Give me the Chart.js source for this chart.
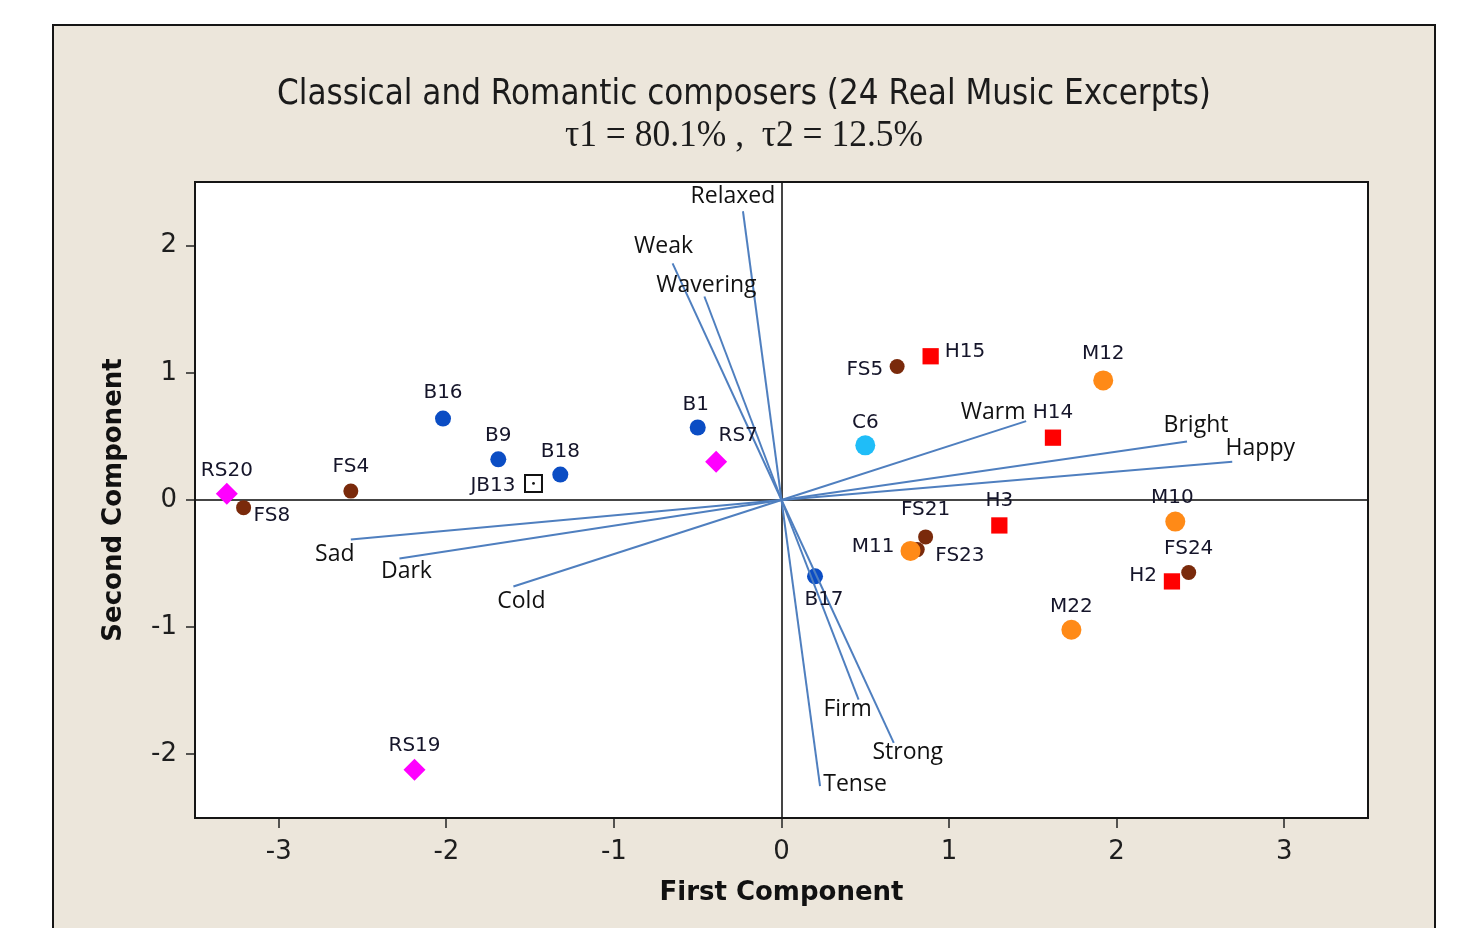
<!DOCTYPE html>
<html>
<head>
<meta charset="utf-8">
<title>Classical and Romantic composers</title>
<script src="https://cdn.jsdelivr.net/npm/chart.js@4.4.1/dist/chart.umd.min.js"></script>
<style>
  html, body { margin: 0; padding: 0; background: #ffffff; }
  #wrap { width: 1457px; height: 928px; position: relative; }
</style>
</head>
<body>
<div id="wrap"><canvas id="biplot"></canvas></div>
<script>
// ---- Excerpt scores on the first two principal components, by composer ----
const beethovenNames = ['B1', 'B9', 'B16', 'B17', 'B18'];
const beethovenX = [-0.50, -1.69, -2.02, 0.20, -1.32];
const beethovenY = [0.57, 0.32, 0.64, -0.60, 0.20];

const schubertNames = ['FS4', 'FS5', 'FS8', 'FS21', 'FS23', 'FS24'];
const schubertX = [-2.57, 0.69, -3.21, 0.86, 0.81, 2.43];
const schubertY = [0.07, 1.05, -0.06, -0.29, -0.39, -0.57];

const haydnNames = ['H2', 'H3', 'H14', 'H15'];
const haydnX = [2.33, 1.30, 1.62, 0.89];
const haydnY = [-0.64, -0.20, 0.49, 1.13];

const mozartNames = ['M10', 'M11', 'M12', 'M22'];
const mozartX = [2.35, 0.77, 1.92, 1.73];
const mozartY = [-0.17, -0.40, 0.94, -1.02];

const schumannNames = ['RS7', 'RS19', 'RS20'];
const schumannX = [-0.39, -2.19, -3.31];
const schumannY = [0.30, -2.12, 0.05];

const chopinNames = ['C6'];
const chopinX = [0.50];
const chopinY = [0.43];

const brahmsNames = ['JB13'];
const brahmsX = [-1.48];
const brahmsY = [0.13];

// ---- Emotion descriptor loadings (vectors drawn from the origin) ----
const descriptorNames = ['Relaxed', 'Weak', 'Wavering', 'Warm', 'Bright', 'Happy',
                         'Sad', 'Dark', 'Cold', 'Firm', 'Strong', 'Tense'];
const descriptorX = [-0.23, -0.65, -0.46, 1.46, 2.42, 2.69, -2.57, -2.28, -1.60, 0.46, 0.67, 0.23];
const descriptorY = [2.27, 1.86, 1.60, 0.62, 0.46, 0.30, -0.31, -0.46, -0.68, -1.57, -1.91, -2.25];

// ---- Axis ticks ----
const xTicks = [-3, -2, -1, 0, 1, 2, 3];
const yTicks = [-2, -1, 0, 1, 2];

// ---- Label placement (pixel offsets from the mark, text alignment) ----
const pointLabelPlacement = {
  RS20: [0, -23, 'center'], FS8: [10, 8, 'left'], FS4: [0, -24, 'center'],
  B16: [0, -26, 'center'], B9: [0, -23, 'center'], B18: [0, -23, 'center'],
  JB13: [-18, 2, 'right'], B1: [-2, -23, 'center'], RS7: [22, -26, 'center'],
  RS19: [0, -24, 'center'], FS5: [-14, 3, 'right'], H15: [14, -4, 'left'],
  M12: [0, -27, 'center'], C6: [0, -23, 'center'], H14: [0, -25, 'center'],
  H3: [0, -25, 'center'], FS21: [0, -27, 'center'], M11: [-16, -4, 'right'],
  FS23: [18, 6, 'left'], B17: [9, 23, 'center'], M10: [-3, -24, 'center'],
  FS24: [0, -24, 'center'], H2: [-15, -6, 'right'], M22: [0, -23, 'center']
};
const vectorLabelPlacement = {
  Relaxed: [-10, -15], Weak: [-9, -17], Wavering: [2, -11], Warm: [-33, -9],
  Bright: [9, -16], Happy: [28, -13], Sad: [-16, 15], Dark: [7, 13],
  Cold: [8, 15], Firm: [-11, 10], Strong: [14, 10], Tense: [35, -2]
};

function toPoints(names, xs, ys) {
  return xs.map((x, i) => ({ x: x, y: ys[i], name: names[i] }));
}

const vectorColor = '#4F7FBF';
const vectorDatasets = descriptorNames.map((name, i) => ({
  label: name,
  isVector: true,
  data: [{ x: 0, y: 0 }, { x: descriptorX[i], y: descriptorY[i], name: name }],
  showLine: true,
  borderColor: vectorColor,
  borderWidth: 2,
  pointRadius: 0,
  fill: false
}));

function group(label, names, xs, ys, style) {
  return Object.assign({
    label: label,
    pointLabels: true,
    data: toPoints(names, xs, ys),
    showLine: false,
    borderWidth: 0
  }, style);
}

// Datasets listed first are painted last (on top).
const datasets = [
  ...vectorDatasets,
  { label: 'JB center', data: toPoints(brahmsNames, brahmsX, brahmsY), pointStyle: 'circle',
    pointRadius: 1.4, backgroundColor: '#111', borderWidth: 0, showLine: false },
  group('Brahms', brahmsNames, brahmsX, brahmsY,
        { pointStyle: 'rect', pointRadius: 12, backgroundColor: 'rgba(255,255,255,0)',
          borderColor: '#111', borderWidth: 2 }),
  group('Mozart', mozartNames, mozartX, mozartY,
        { pointStyle: 'circle', pointRadius: 10, backgroundColor: '#FF8A17' }),
  group('Chopin', chopinNames, chopinX, chopinY,
        { pointStyle: 'circle', pointRadius: 10, backgroundColor: '#1FBDF8' }),
  group('Haydn', haydnNames, haydnX, haydnY,
        { pointStyle: 'rect', pointRadius: 11.5, backgroundColor: '#FF0000' }),
  group('Schumann', schumannNames, schumannX, schumannY,
        { pointStyle: 'rectRot', pointRadius: 11, backgroundColor: '#FF00FF' }),
  group('Beethoven', beethovenNames, beethovenX, beethovenY,
        { pointStyle: 'circle', pointRadius: 8, backgroundColor: '#0B4DC4' }),
  group('Schubert', schubertNames, schubertX, schubertY,
        { pointStyle: 'circle', pointRadius: 7.5, backgroundColor: '#7A2A0B' })
];

const FRAME = { left: 53, top: 25, right: 1435 };

const framePlugin = {
  id: 'frame',
  beforeDraw(chart) {
    const { ctx, chartArea: a } = chart;
    ctx.save();
    ctx.fillStyle = '#ECE6DB';
    ctx.fillRect(FRAME.left, FRAME.top, FRAME.right - FRAME.left, chart.height + 20);
    ctx.strokeStyle = '#151515';
    ctx.lineWidth = 2;
    ctx.strokeRect(FRAME.left, FRAME.top, FRAME.right - FRAME.left, chart.height + 20);
    ctx.fillStyle = '#ffffff';
    ctx.fillRect(a.left, a.top, a.right - a.left, a.bottom - a.top);
    ctx.restore();
  },
  afterDraw(chart) {
    const { ctx, chartArea: a } = chart;
    ctx.save();
    ctx.strokeStyle = '#151515';
    ctx.lineWidth = 2;
    ctx.strokeRect(a.left, a.top, a.right - a.left, a.bottom - a.top);
    ctx.restore();
  }
};

// Heading in two lines, condensed to a fixed width
const headingPlugin = {
  id: 'heading',
  afterDraw(chart) {
    const { ctx } = chart;
    const cx = (FRAME.left + FRAME.right) / 2;
    const lines = [
      { text: 'Classical and Romantic composers (24 Real Music Excerpts)',
        font: '36px "DejaVu Sans", sans-serif', width: 934, base: 104 },
      { text: 'τ1 = 80.1% ,  τ2 = 12.5%',
        font: '37px "Liberation Serif", "DejaVu Serif", serif', width: 358, base: 146 }
    ];
    ctx.save();
    ctx.fillStyle = '#1b1b1b';
    ctx.textBaseline = 'alphabetic';
    ctx.textAlign = 'center';
    lines.forEach(l => {
      ctx.font = l.font;
      const w = ctx.measureText(l.text).width;
      const s = l.width / w;
      ctx.save();
      ctx.translate(cx, l.base);
      ctx.scale(s, 1);
      ctx.fillText(l.text, 0, 0);
      ctx.restore();
    });
    ctx.restore();
  }
};

const labelPlugin = {
  id: 'markLabels',
  afterDatasetsDraw(chart) {
    const { ctx } = chart;
    ctx.save();
    ctx.textBaseline = 'middle';
    chart.data.datasets.forEach((ds, di) => {
      const meta = chart.getDatasetMeta(di);
      if (ds.isVector) {
        const el = meta.data[1];
        const off = vectorLabelPlacement[ds.label] || [0, 0];
        ctx.font = '23px "Open Sans", "DejaVu Sans", sans-serif';
        ctx.fillStyle = '#111';
        ctx.textAlign = 'center';
        ctx.fillText(ds.label, el.x + off[0], el.y + off[1]);
      } else if (ds.pointLabels) {
        ctx.font = '20px "DejaVu Sans", sans-serif';
        ctx.fillStyle = '#15152a';
        meta.data.forEach((el, i) => {
          const name = ds.data[i].name;
          const p = pointLabelPlacement[name] || [0, -22, 'center'];
          ctx.textAlign = p[2];
          ctx.fillText(name, el.x + p[0], el.y + p[1]);
        });
      }
    });
    ctx.restore();
  }
};

const tickFont = { family: '"DejaVu Sans", sans-serif', size: 26 };
const titleFont = { family: '"DejaVu Sans", sans-serif', size: 26, weight: 'bold' };

function zeroLine(ctx) {
  return ctx.tick && ctx.tick.value === 0 ? '#454545' : 'rgba(0,0,0,0)';
}

new Chart(document.getElementById('biplot'), {
  type: 'scatter',
  data: { datasets: datasets },
  options: {
    responsive: true,
    maintainAspectRatio: false,
    animation: false,
    layout: { padding: { left: 0, top: 182, right: 89, bottom: 0 } },
    plugins: {
      legend: { display: false },
      tooltip: { enabled: false },
      title: { display: false }
    },
    scales: {
      x: {
        type: 'linear',
        min: -3.5,
        max: 3.5,
        afterBuildTicks: s => { s.ticks = xTicks.map(v => ({ value: v })); },
        afterFit: s => { s.height = 110; },
        border: { display: false },
        grid: { color: zeroLine, lineWidth: 2, tickColor: '#222', tickWidth: 1.5, tickLength: 10 },
        ticks: { font: tickFont, color: '#1e1e1e', padding: 9, maxRotation: 0 },
        title: { display: true, text: 'First Component', font: titleFont, color: '#111',
                 padding: { top: 0, bottom: 19 } }
      },
      y: {
        type: 'linear',
        min: -2.5,
        max: 2.5,
        afterBuildTicks: s => { s.ticks = yTicks.map(v => ({ value: v })); },
        afterFit: s => { s.width = 195; },
        border: { display: false },
        grid: { color: zeroLine, lineWidth: 2, tickColor: '#222', tickWidth: 1.5, tickLength: 9 },
        ticks: { font: tickFont, color: '#1e1e1e', padding: 9 },
        title: { display: true, text: 'Second Component', font: titleFont, color: '#111',
                 padding: { top: 99, bottom: 0 } }
      }
    }
  },
  plugins: [framePlugin, headingPlugin, labelPlugin]
});
</script>
</body>
</html>
